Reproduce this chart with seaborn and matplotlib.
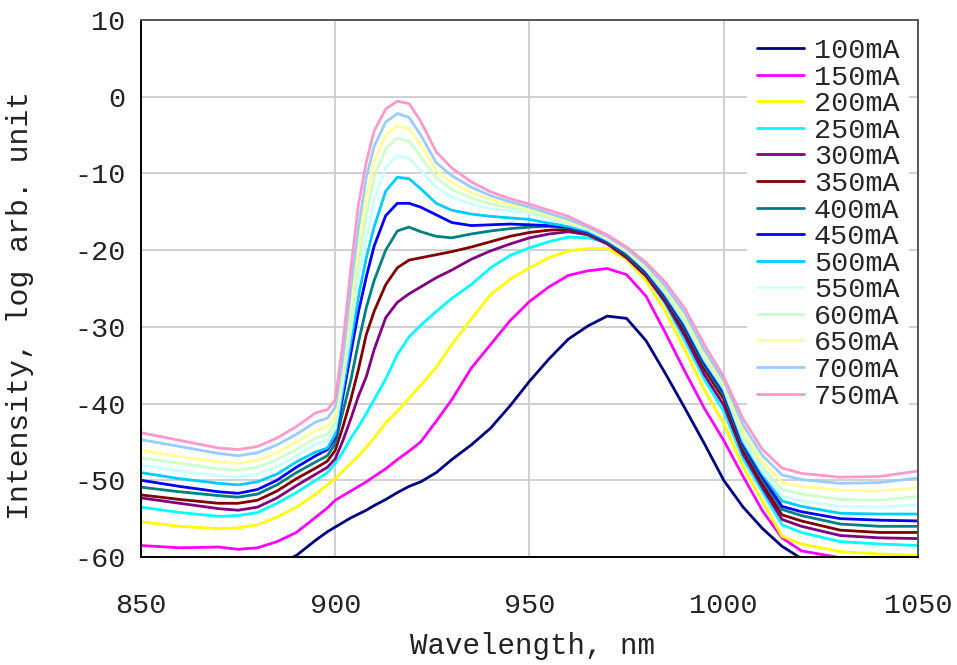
import numpy as np
import pandas as pd
import seaborn as sns
import matplotlib.pyplot as plt

# wavelength grid (nm) shared by all spectra
wl = [850, 860, 870, 875, 880, 885, 890, 895, 898, 900, 902, 904, 906, 908, 910, 913, 916, 919, 922, 926,
      930, 935, 940, 945, 950, 955, 960, 965, 970, 975, 980, 985, 990, 995, 1000, 1005, 1010, 1015, 1020,
      1030, 1040, 1050]

# intensity (log arb. unit), one list per drive current
i100 = [-63.0, -62.5, -62.3, -62.2, -61.8, -61.0, -59.8, -57.8, -56.7, -56.1, -55.5, -54.9, -54.4, -53.9, -53.3, -52.5,
        -51.6, -50.8, -50.2, -49.0, -47.3, -45.4, -43.2, -40.3, -37.1, -34.2, -31.6, -29.9, -28.6, -28.9, -31.8, -36.1,
        -40.6, -45.2, -50.0, -53.5, -56.3, -58.6, -60.2, -62.0, -62.5, -63.0]
i150 = [-58.5, -58.8, -58.7, -59.0, -58.8, -58.0, -56.8, -54.8, -53.6, -52.6, -52.0, -51.4, -50.8, -50.2, -49.5, -48.5,
        -47.3, -46.2, -45.0, -42.3, -39.5, -35.4, -32.3, -29.2, -26.7, -24.8, -23.3, -22.7, -22.4, -23.2, -26.0, -30.8,
        -35.8, -40.6, -44.8, -49.5, -54.0, -57.5, -59.2, -60.1, -60.8, -61.0]
i200 = [-55.4, -56.0, -56.3, -56.2, -55.8, -54.8, -53.5, -51.8, -50.6, -49.8, -48.8, -47.8, -46.8, -45.7, -44.5, -42.5,
        -41.0, -39.3, -37.6, -35.3, -32.3, -29.0, -25.8, -23.8, -22.3, -21.0, -20.1, -19.8, -19.8, -21.2, -24.0, -28.0,
        -33.0, -38.2, -42.6, -48.3, -52.8, -57.3, -58.3, -59.3, -59.6, -59.8]
i250 = [-53.5, -54.2, -54.7, -54.6, -54.2, -53.0, -51.6, -50.0, -49.0, -47.8, -46.3, -44.5, -43.0, -41.3, -39.5, -36.8,
        -33.6, -31.3, -29.8, -28.0, -26.3, -24.5, -22.3, -20.7, -19.7, -18.9, -18.3, -18.4, -19.0, -20.5, -23.3, -27.0,
        -31.8, -36.8, -41.0, -47.2, -51.5, -55.8, -56.8, -58.0, -58.3, -58.5]
i300 = [-52.3, -53.0, -53.7, -53.9, -53.5, -52.3, -50.7, -49.2, -48.3, -47.2, -44.8, -42.0, -39.0, -36.5, -33.0, -28.8,
        -26.8, -25.7, -24.8, -23.6, -22.6, -21.2, -20.1, -19.2, -18.4, -17.9, -17.6, -18.0, -19.2, -21.0, -23.4, -26.8,
        -31.2, -36.2, -40.2, -46.6, -51.0, -55.1, -56.0, -57.2, -57.5, -57.6]
i350 = [-51.9, -52.5, -53.0, -53.0, -52.6, -51.4, -49.8, -48.4, -47.5, -46.1, -43.0, -39.5, -35.5, -31.0, -28.0, -24.5,
        -22.3, -21.3, -21.0, -20.6, -20.2, -19.6, -18.9, -18.2, -17.7, -17.4, -17.3, -17.8, -19.0, -20.8, -23.2, -26.5,
        -30.6, -35.5, -39.4, -46.0, -50.5, -54.5, -55.3, -56.5, -56.8, -56.8]
i400 = [-50.9, -51.5, -52.0, -52.2, -51.8, -50.6, -49.0, -47.6, -46.8, -45.2, -41.0, -37.0, -32.0, -27.5, -24.0, -20.0,
        -17.5, -17.0, -17.6, -18.2, -18.4, -17.9, -17.5, -17.2, -17.0, -16.9, -17.1, -17.7, -18.9, -20.6, -23.0, -26.2,
        -30.2, -35.0, -38.9, -45.6, -50.0, -53.8, -54.6, -55.7, -56.0, -56.0]
i450 = [-50.0, -50.8, -51.5, -51.7, -51.2, -50.0, -48.3, -46.8, -46.0, -44.5, -39.0, -33.5, -28.0, -23.5, -19.5, -15.5,
        -13.9, -13.9, -14.4, -15.4, -16.4, -16.8, -16.7, -16.6, -16.7, -16.8, -17.0, -17.6, -18.8, -20.4, -22.8, -26.0,
        -29.9, -34.7, -38.5, -45.3, -49.6, -53.4, -54.1, -55.0, -55.2, -55.3]
i500 = [-49.0, -49.8, -50.4, -50.6, -50.2, -49.2, -47.6, -46.3, -45.8, -44.0, -38.0, -32.0, -26.0, -21.0, -17.0, -12.3,
        -10.5, -10.7, -12.0, -13.9, -14.8, -15.3, -15.6, -15.8, -16.0, -16.5, -16.9, -17.5, -18.7, -20.3, -22.6, -25.8,
        -29.6, -34.4, -38.2, -45.0, -49.2, -52.7, -53.4, -54.3, -54.4, -54.4]
i550 = [-48.0, -48.8, -49.4, -49.6, -49.2, -48.2, -46.8, -45.3, -44.8, -43.3, -37.0, -30.5, -23.5, -18.5, -13.5, -9.2,
        -7.7, -8.0, -9.6, -11.8, -13.1, -14.0, -14.6, -14.9, -15.2, -16.0, -16.6, -17.3, -18.6, -20.2, -22.5, -25.6,
        -29.4, -34.2, -38.0, -44.7, -48.9, -52.1, -52.7, -53.4, -53.5, -53.2]
i600 = [-47.1, -47.8, -48.5, -48.7, -48.3, -47.3, -46.0, -44.5, -44.0, -42.5, -36.0, -29.0, -21.5, -15.5, -10.5, -6.8,
        -5.4, -5.8, -7.8, -10.6, -12.1, -13.2, -14.0, -14.5, -14.9, -15.7, -16.5, -17.2, -18.5, -20.1, -22.4, -25.4,
        -29.1, -33.9, -37.8, -44.2, -48.3, -51.2, -51.8, -52.5, -52.6, -52.1]
i650 = [-46.1, -46.9, -47.6, -47.8, -47.4, -46.4, -45.0, -43.5, -43.0, -41.5, -35.0, -27.0, -19.5, -13.0, -8.5, -5.0,
        -3.8, -4.2, -6.3, -9.6, -11.2, -12.5, -13.4, -14.1, -14.7, -15.5, -16.3, -17.1, -18.4, -20.0, -22.2, -25.1,
        -28.7, -33.5, -37.4, -43.6, -47.6, -50.3, -50.8, -51.3, -51.4, -51.0]
i700 = [-44.7, -45.6, -46.5, -46.8, -46.4, -45.4, -44.0, -42.4, -41.9, -40.5, -34.0, -25.0, -17.0, -10.5, -6.5, -3.3,
        -2.2, -2.7, -5.0, -8.6, -10.3, -11.8, -12.9, -13.7, -14.4, -15.2, -16.0, -17.0, -18.2, -19.8, -21.9, -24.7,
        -28.2, -33.0, -37.0, -42.8, -46.8, -49.3, -49.9, -50.4, -50.3, -49.7]
i750 = [-43.8, -44.8, -45.8, -46.0, -45.6, -44.5, -43.0, -41.2, -40.8, -39.5, -32.0, -22.5, -14.0, -8.5, -4.5, -1.6,
        -0.6, -0.9, -3.2, -7.2, -9.3, -11.1, -12.4, -13.3, -14.0, -14.8, -15.6, -16.8, -18.0, -19.6, -21.6, -24.2,
        -27.6, -32.3, -36.5, -42.0, -46.0, -48.4, -49.1, -49.6, -49.5, -48.8]

currents = ['100mA', '150mA', '200mA', '250mA', '300mA', '350mA', '400mA',
            '450mA', '500mA', '550mA', '600mA', '650mA', '700mA', '750mA']
colors = ['#000080', '#ff00ff', '#ffff00', '#00ffff', '#800080', '#800000', '#008080',
          '#0000ff', '#00ccff', '#ccffff', '#ccffcc', '#ffff99', '#99ccff', '#ff99cc']

spectra = [i100, i150, i200, i250, i300, i350, i400, i450, i500, i550, i600, i650, i700, i750]
df = pd.DataFrame({
    'Wavelength': wl * len(currents),
    'Intensity': np.concatenate(spectra),
    'Current': np.repeat(currents, len(wl)),
})

sns.set_style('white')
plt.rcParams['font.family'] = ['Liberation Mono', 'DejaVu Sans Mono']
plt.rcParams['axes.unicode_minus'] = False

fig = plt.figure(figsize=(9.57, 6.65), dpi=100)
ax = fig.add_axes([0.1473, 0.1624, 0.8119, 0.8076])

sns.lineplot(data=df, x='Wavelength', y='Intensity', hue='Current', hue_order=currents,
             palette=colors, estimator=None, linewidth=2.0, ax=ax)

ax.set_xlim(850, 1050)
ax.set_ylim(-60, 10)
ax.set_xticks(range(850, 1051, 50))
ax.set_yticks(range(-60, 11, 10))
ax.grid(True, color='#d0d0d0', linewidth=1.4)
ax.set_axisbelow(True)
ax.tick_params(direction='in', length=8, width=1.3, color='#606060', labelsize=20.5,
               labelcolor='#222222')
ax.tick_params(axis='x', pad=26)
ax.tick_params(axis='y', pad=11)

for side in ['left', 'bottom']:
    ax.spines[side].set_color('black')
    ax.spines[side].set_linewidth(1.4)
for side in ['right', 'top']:
    ax.spines[side].set_color('#555555')
    ax.spines[side].set_linewidth(1.4)

ax.set_xlabel('Wavelength, nm', fontsize=21, color='#222222')
ax.set_ylabel('Intensity, log arb. unit', fontsize=21.5, color='#222222')
ax.xaxis.set_label_coords(0.5045, -0.1397)
ax.yaxis.set_label_coords(-0.1377, 0.4674)

handles, labels = ax.get_legend_handles_labels()
leg = ax.legend(handles, labels, loc='upper right', fontsize=20.5, frameon=True, fancybox=False,
                edgecolor='none', facecolor='white', framealpha=1, handlelength=1.65,
                handletextpad=0.35, labelspacing=0.02, borderaxespad=0.3, borderpad=0.34)
for line in leg.get_lines():
    line.set_linewidth(2.0)

fig.savefig('out.png', dpi=100)
